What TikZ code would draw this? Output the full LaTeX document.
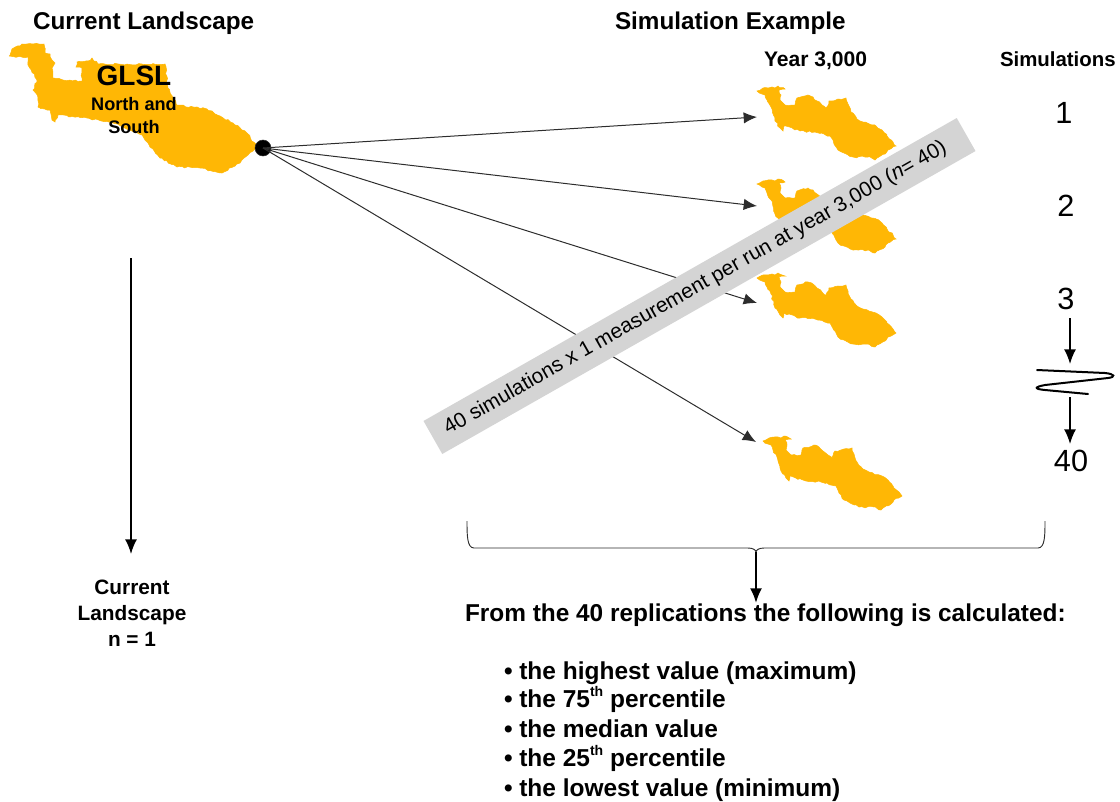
\documentclass[tikz,border=0pt]{standalone}
\usepackage{fontspec}
\setmainfont{Liberation Sans}
\usetikzlibrary{arrows.meta,decorations.pathmorphing}
\definecolor{gold}{RGB}{255,183,5}
\definecolor{bandgray}{RGB}{212,212,212}
\definecolor{linegray}{RGB}{45,45,45}
\tikzset{
  x=0.75pt,y=-0.75pt,
  land/.style={fill=gold,draw=gold,line width=0.4pt,decorate,decoration={random steps,segment length=2.2pt,amplitude=0.7pt}},
  ray/.style={draw=linegray,line width=0.75pt,-{Latex[length=10pt,width=8.5pt]}},
  blk/.style={draw=black,line width=1.2pt,-{Latex[length=11pt,width=9pt]}},
  txt/.style={inner sep=0pt,outer sep=0pt,anchor=base west,font=\bfseries\fontsize{18.2}{20}\selectfont},
  ctr/.style={inner sep=0pt,outer sep=0pt,anchor=base,font=\bfseries\fontsize{15.6}{18}\selectfont},
  num/.style={inner sep=0pt,outer sep=0pt,anchor=base,font=\fontsize{23}{26}\selectfont},
  item/.style={inner sep=0pt,outer sep=0pt,anchor=base west,font=\bfseries\fontsize{18.35}{20}\selectfont},
}
\newcommand{\supth}{\raisebox{0.42em}{\fontsize{10.5}{12}\selectfont th}}
\newcommand{\smallland}{(757,91) -- (763,88) -- (772,87) -- (775,88) -- (778,86) -- (785,89) -- (779,90) -- (781,95) -- (780,100) -- (783,103) -- (785,105) -- (795,105) -- (796,100) -- (797,98) -- (808,95) -- (813,97) -- (817,101) -- (822,105) -- (826,108) -- (829,101) -- (838,99) -- (843,99) -- (846,98) -- (848,104) -- (851,112) -- (857,119) -- (863,122) -- (876,126) -- (882,130) -- (887,136) -- (893,142) -- (896,146) -- (888,150) -- (885,154) -- (877,158) -- (875,160) -- (868,157) -- (853,157) -- (844,153) -- (838,150) -- (830,136) -- (815,132) -- (800,131) -- (784,126) -- (783,131) -- (780,128) -- (775,121) -- (771,107) -- (767,100) -- (765,95) -- (762,94) -- cycle}
\begin{document}
\begin{tikzpicture}
\useasboundingbox (0,0) rectangle (1120,801);
% main landscape
\fill[land] (10,55) -- (12,49) -- (20,46) -- (22,44) -- (44,44) -- (45,53) -- (50,54) -- (52,60) -- (55,63) -- (52,68) -- (53,78) -- (63,80) -- (82,81) -- (82,68) -- (76,67) -- (77,62) -- (88,61) -- (92,58) -- (98,64) -- (165,64) -- (168,88) -- (177,105) -- (207,109) -- (220,116) -- (233,123) -- (247,133) -- (257,147) -- (248,155) -- (240,163) -- (222,173) -- (200,168) -- (177,167) -- (160,158) -- (150,147) -- (142,135) -- (113,123) -- (87,118) -- (58,115) -- (55,122) -- (52,120) -- (50,110) -- (38,107) -- (38,97) -- (33,90) -- (37,80) -- (28,65) -- (28,57) -- (10,56) -- cycle;
% simulated landscapes
\fill[land] \smallland;
\begin{scope}[yshift=-69.75pt]\fill[land] \smallland;\end{scope}
\begin{scope}[yshift=-140.25pt]\fill[land] \smallland;\end{scope}
\begin{scope}[xshift=4.5pt,yshift=-262.5pt]\fill[land] \smallland;\end{scope}
% labels of main landscape
\node[inner sep=0pt,anchor=base,font=\bfseries\fontsize{21}{24}\selectfont] (glsl) at (134,85) {GLSL};
\node[ctr,font=\bfseries\fontsize{13.6}{15}\selectfont] (ns1) at (134,110) {North and};
\node[ctr,font=\bfseries\fontsize{13.6}{15}\selectfont] (ns2) at (134,133) {South};
% source and targets
\node[circle,fill=black,draw=linegray,line width=0.4pt,minimum width=10pt,minimum height=12pt,inner sep=0pt] (src) at (263,148) {};
\coordinate (t1) at (757,117);
\coordinate (t2) at (757,206);
\coordinate (t3) at (757,303);
\coordinate (t4) at (756,442);
\draw[ray] (src.center) -- (t1);
\draw[ray] (src.center) -- (t2);
\draw[ray] (src.center) -- (t3);
\draw[ray] (src.center) -- (t4);
% banner
\node[fill=bandgray,rotate=29.6,minimum width=460pt,minimum height=28.5pt,inner sep=0pt,font=\fontsize{15.7}{18}\selectfont] (banner) at (699.5,286) {40 simulations x 1 measurement per run at year 3,000 (\textit{n}= 40)\hspace*{7pt}};
% headings
\node[txt] (h1) at (33,29) {Current Landscape};
\node[txt] (h2) at (615,29) {Simulation Example};
\node[txt,font=\bfseries\fontsize{15.8}{18}\selectfont] (h3) at (764,66) {Year 3,000};
\node[txt,font=\bfseries\fontsize{15.3}{18}\selectfont] (h4) at (1000,66) {Simulations};
% numbers
\node[num] (n1) at (1064,123) {1};
\node[num] (n2) at (1066,216) {2};
\node[num] (n3) at (1066,309) {3};
\node[num] (n40) at (1071,471) {40};
\coordinate (a1) at (1070,318);
\coordinate (b1) at (1070,364);
\coordinate (b2) at (1070,397);
\coordinate (b3) at (1070,444);
\draw[blk] (a1) -- (b1);
\draw[blk] (b2) -- (b3);
\draw[black,line width=1.5pt,line cap=round] (1037,370) -- (1105,373) .. controls (1115,374) and (1116,377) .. (1108,378) -- (1045,385) .. controls (1034,387) and (1034,389) .. (1045,390) -- (1088,394);
% left arrow
\coordinate (la) at (131,258);
\coordinate (lb) at (131,554);
\node[ctr] (c1) at (132,594) {Current};
\node[ctr] (c2) at (132,620) {Landscape};
\node[ctr] (c3) at (132,646) {n = 1};
\draw[blk] (la) -- (lb);
% brace
\coordinate (br) at (756,552);
\coordinate (bd) at (756,603);
\draw[draw=linegray,line width=0.7pt] (467,521) .. controls (467,535) and (467,548) .. (474,548) -- (748,548) .. controls (753,548) and (756,550) .. (br) .. controls (756,550) and (759,548) .. (764,548) -- (1038,548) .. controls (1045,548) and (1045,535) .. (1045,521);
\draw[blk,line width=1.6pt] (br) -- (bd);
% results
\node[txt,font=\bfseries\fontsize{18.3}{20}\selectfont] (from) at (465,621) {From the 40 replications the following is calculated:};
\node[item] (i1) at (504,679) {• the highest value (maximum)};
\node[item] (i2) at (504,707) {• the 75\supth{} percentile};
\node[item] (i3) at (504,737) {• the median value};
\node[item] (i4) at (504,766) {• the 25\supth{} percentile};
\node[item] (i5) at (504,796) {• the lowest value (minimum)};
\end{tikzpicture}
\end{document}
